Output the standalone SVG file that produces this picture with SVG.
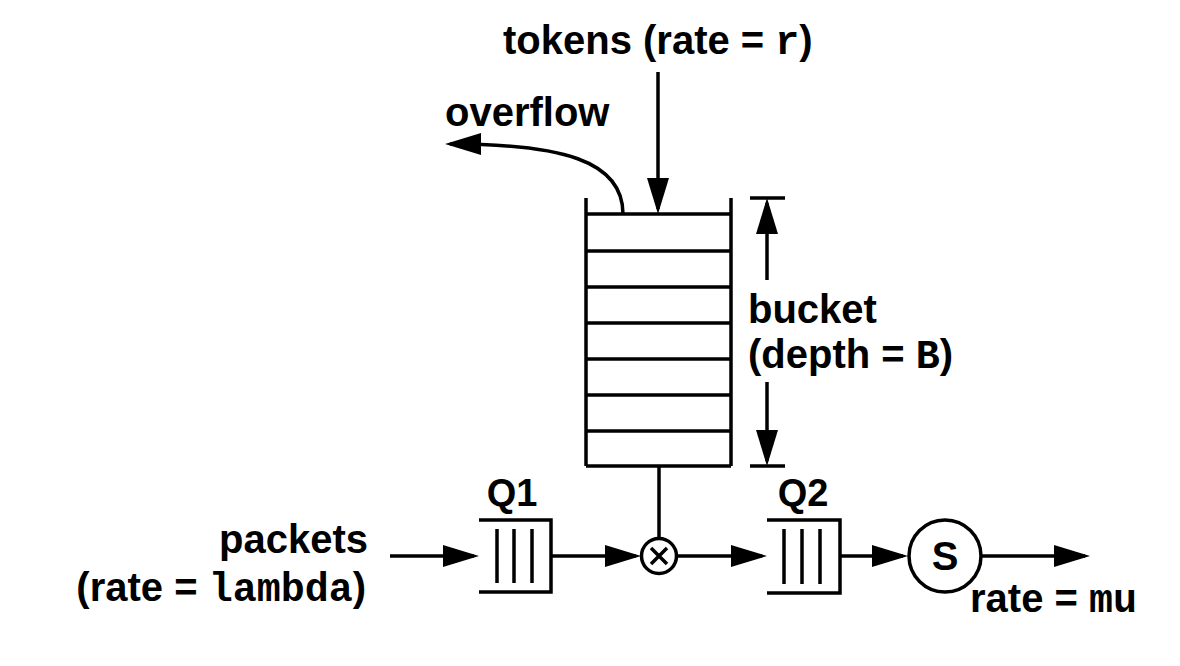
<svg xmlns="http://www.w3.org/2000/svg" width="1180" height="666" viewBox="0 0 1180 666">
<defs>
<style>
.ln{stroke:#000;stroke-width:3.5;fill:none}
.t{font-family:"Liberation Sans",Arial,Helvetica,sans-serif;font-weight:bold;font-size:40px;fill:#000}
.q{font-size:38px}
.m{font-family:"Liberation Mono","Courier New",monospace;font-weight:bold}
</style>
<marker id="ah" markerUnits="userSpaceOnUse" markerWidth="36" markerHeight="22" viewBox="0 0 36 22" refX="31" refY="11" orient="auto">
<path d="M0,0 L36,11 L0,22 z" fill="#000"/>
</marker>
</defs>
<rect width="1180" height="666" fill="#fff"/>

<g id="bucket">
<path class="ln" d="M586,198 V466 M731,198 V466"/>
<path class="ln" d="M586,214 H731 M586,251 H731 M586,287 H731 M586,323 H731 M586,359 H731 M586,395 H731 M586,431 H731 M586,466 H731"/>
</g>

<g id="depth-dim">
<path class="ln" d="M750,198 H785 M750,466 H785"/>
<text class="t" x="748" y="323">bucket</text>
<text class="t" x="748" y="368">(depth = <tspan class="m">B</tspan>)</text>
</g>

<g id="tokens-label">
<text class="t" x="503" y="54">tokens (rate = <tspan class="m">r</tspan>)</text>
</g>

<g id="overflow-label">
<text class="t" x="445" y="126">overflow</text>
</g>

<g id="q1">
<path class="ln" d="M479,520 H551 V592 H479"/>
<path class="ln" d="M497,529 V583 M514,529 V583 M532,529 V583"/>
<text class="t q" x="512" y="506" text-anchor="middle">Q1</text>
</g>

<g id="gate">
<circle class="ln" cx="659" cy="556" r="17.5"/>
<path class="ln" d="M651,548 L667,564 M667,548 L651,564"/>
</g>

<g id="q2">
<path class="ln" d="M767,520 H840 V593 H767"/>
<path class="ln" d="M784,529 V584 M802,529 V584 M820,529 V584"/>
<text class="t q" x="803" y="506" text-anchor="middle">Q2</text>
</g>

<g id="server">
<circle class="ln" cx="945" cy="556" r="36"/>
<text class="t" x="945" y="570" text-anchor="middle">S</text>
</g>

<g id="packets-label">
<text class="t" x="368" y="553" text-anchor="end">packets</text>
<text class="t" x="366" y="601" text-anchor="end">(rate = <tspan class="m">lambda</tspan>)</text>
</g>

<g id="mu-label">
<text class="t" x="970" y="612">rate = <tspan class="m">mu</tspan></text>
</g>

<g id="connectors">
<path class="ln" d="M658,72 V209" marker-end="url(#ah)"/>
<path class="ln" d="M623,214 C623,160 560,144 450,144" marker-end="url(#ah)"/>
<path class="ln" d="M767,280 V203" marker-end="url(#ah)"/>
<path class="ln" d="M767,382 V461" marker-end="url(#ah)"/>
<path class="ln" d="M659,466 V538"/>
<path class="ln" d="M390,556 H474" marker-end="url(#ah)"/>
<path class="ln" d="M551,556 H636" marker-end="url(#ah)"/>
<path class="ln" d="M677,556 H762" marker-end="url(#ah)"/>
<path class="ln" d="M840,556 H903" marker-end="url(#ah)"/>
<path class="ln" d="M982,556 H1085" marker-end="url(#ah)"/>
</g>
</svg>
